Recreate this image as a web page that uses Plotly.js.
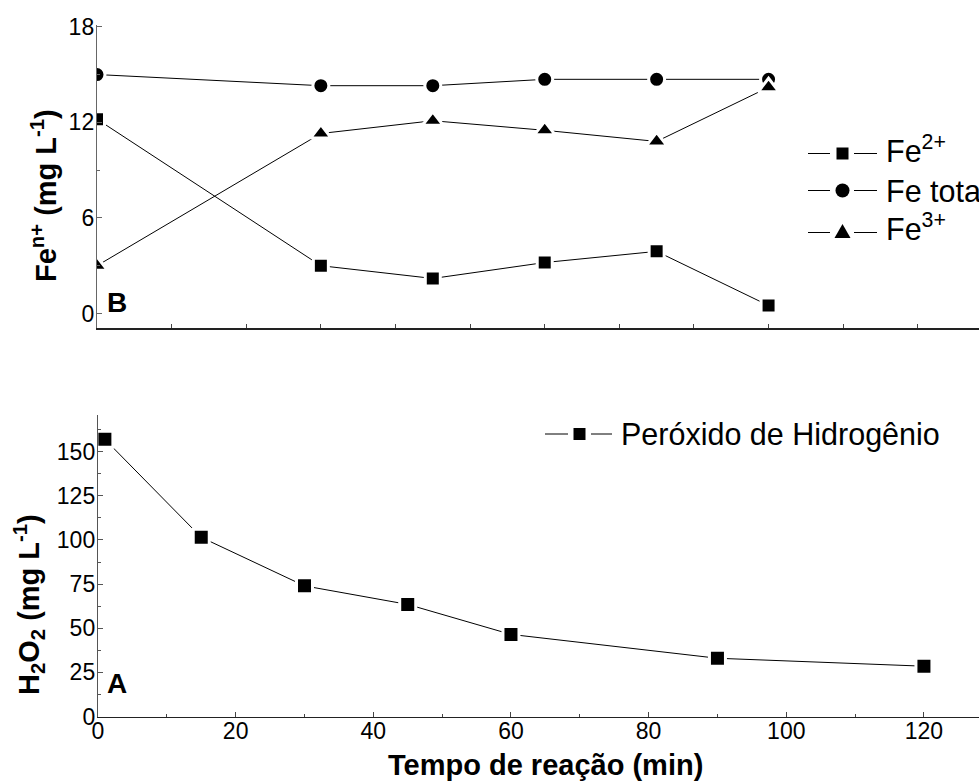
<!DOCTYPE html>
<html>
<head>
<meta charset="utf-8">
<script src="https://cdn.plot.ly/plotly-3.0.1.min.js"></script>
<style>
  html, body { margin: 0; padding: 0; background: #ffffff; }
  #chart { width: 979px; height: 783px; }
</style>
</head>
<body>
<div id="chart"></div>
<script>
// Iron species during the reaction (panel B)
const timeFe = [0, 30, 45, 60, 75, 90];
const fe2 = [12.2, 3.0, 2.2, 3.2, 3.9, 0.5];
const feTotal = [15.0, 14.3, 14.3, 14.7, 14.7, 14.7];
const fe3 = [3.0, 11.3, 12.1, 11.5, 10.8, 14.2];

// Hydrogen peroxide consumption (panel A)
const timeH2O2 = [1, 15, 30, 45, 60, 90, 120];
const h2o2 = [157, 101.5, 74, 63.5, 46.5, 33, 28.5];

const seriesNames = ['Fe<sup>2+</sup>', 'Fe total', 'Fe<sup>3+</sup>'];
const h2o2Name = 'Peróxido de Hidrogênio';

const W = 979, H = 783, L = 97;
const px = x => (x - L) / (W - L);   // pixel column -> paper x
const py = y => 1 - y / H;           // pixel row -> paper y

const FONT = '"Liberation Sans", Arial, Helvetica, sans-serif';

function markerStyle(symbol, size) {
  return { symbol: symbol, size: size, color: '#000000', line: { color: '#ffffff', width: 3 } };
}
const lineStyle = { color: '#000000', width: 1 };

const traces = [
  { x: timeFe, y: fe2, name: seriesNames[0], mode: 'lines+markers', xaxis: 'x2', yaxis: 'y2',
    line: lineStyle, marker: markerStyle('square', 15) },
  { x: timeFe, y: feTotal, name: seriesNames[1], mode: 'lines+markers', xaxis: 'x2', yaxis: 'y2',
    line: lineStyle, marker: markerStyle('circle', 16) },
  { x: timeFe, y: fe3, name: seriesNames[2], mode: 'lines+markers', xaxis: 'x2', yaxis: 'y2',
    line: lineStyle, marker: markerStyle('triangle-up', 18) },
  { x: timeH2O2, y: h2o2, name: h2o2Name, mode: 'lines+markers', xaxis: 'x', yaxis: 'y',
    line: lineStyle, marker: markerStyle('square', 16) }
];

const tickFont = { family: FONT, size: 23, color: '#000000' };
const legendFont = { family: FONT, size: 30.5, color: '#000000' };
const titleFont = { family: FONT, size: 29, color: '#000000' };

// Legend keys in the plotting-program style: line — symbol — line, then the label
const shapes = [];
const legendNotes = [];
function legendKey(row, symbol, label, lineL, lineR, cx, textX, textDy) {
  const yp = py(row);
  shapes.push({ type: 'line', xref: 'paper', yref: 'paper', x0: px(lineL[0]), x1: px(lineL[1]),
    y0: yp, y1: yp, line: { color: '#000000', width: 1 } });
  shapes.push({ type: 'line', xref: 'paper', yref: 'paper', x0: px(lineR[0]), x1: px(lineR[1]),
    y0: yp, y1: yp, line: { color: '#000000', width: 1 } });
  const fill = { fillcolor: '#000000', line: { width: 0 }, xref: 'paper', yref: 'paper' };
  if (symbol === 'square') {
    shapes.push(Object.assign({ type: 'rect', x0: px(cx - 6), x1: px(cx + 6),
      y0: py(row + 6), y1: py(row - 6) }, fill));
  } else if (symbol === 'circle') {
    shapes.push(Object.assign({ type: 'circle', x0: px(cx - 7), x1: px(cx + 7),
      y0: py(row + 7), y1: py(row - 7) }, fill));
  } else {
    const path = 'M ' + px(cx - 8) + ',' + py(row + 5.5) +
                 ' L ' + px(cx + 8) + ',' + py(row + 5.5) +
                 ' L ' + px(cx) + ',' + py(row - 8.5) + ' Z';
    shapes.push(Object.assign({ type: 'path', path: path }, fill));
  }
  legendNotes.push({ text: label, xref: 'paper', yref: 'paper', x: px(textX), y: py(row + textDy),
    xanchor: 'left', yanchor: 'middle', showarrow: false, font: legendFont });
}
legendKey(153.5, 'square', seriesNames[0], [808, 830], [854, 877], 842.5, 884, -5);
legendKey(190.5, 'circle', seriesNames[1], [808, 830], [854, 877], 842.5, 884, 0);
legendKey(232.5, 'triangle', seriesNames[2], [808, 830], [854, 877], 842.5, 884, -5);
legendKey(434, 'square', h2o2Name, [545, 568], [591, 612], 579.5, 619, 0);

const layout = {
  width: W, height: H,
  margin: { l: L, r: 0, t: 0, b: 0, autoexpand: false },
  paper_bgcolor: '#ffffff', plot_bgcolor: '#ffffff',
  font: { family: FONT, color: '#000000' },
  showlegend: false,
  // panel A axes
  xaxis: {
    domain: [px(98), 1], range: [0, 128], anchor: 'y',
    showgrid: false, zeroline: false, showline: true, linecolor: '#222222', linewidth: 1.5,
    tickmode: 'linear', tick0: 0, dtick: 20, ticks: 'inside', ticklen: 5, tickcolor: '#444444',
    minor: { dtick: 10, ticks: 'inside', ticklen: 3, tickcolor: '#444444', showgrid: false },
    tickfont: tickFont, ticklabelstandoff: -7
  },
  yaxis: {
    domain: [py(716.5), py(415)], range: [0, 170.8], anchor: 'x',
    showgrid: false, zeroline: false, showline: true, linecolor: '#555555', linewidth: 1.2,
    tickmode: 'linear', tick0: 0, dtick: 25, ticks: 'inside', ticklen: 5, tickcolor: '#555555',
    minor: { dtick: 12.5, ticks: 'inside', ticklen: 3, tickcolor: '#555555', showgrid: false },
    tickfont: tickFont, ticklabelstandoff: -3
  },
  // panel B axes
  xaxis2: {
    domain: [0, 1], range: [0, 118.2], anchor: 'y2',
    showgrid: false, zeroline: false, showline: true, linecolor: '#222222', linewidth: 1.5,
    tickmode: 'linear', tick0: 0, dtick: 10, ticks: 'inside', ticklen: 4, tickcolor: '#444444',
    showticklabels: false
  },
  yaxis2: {
    domain: [py(328), py(25)], range: [-0.91, 18.11], anchor: 'x2',
    showgrid: false, zeroline: false, showline: true, linecolor: '#666666', linewidth: 1.2,
    tickmode: 'linear', tick0: 0, dtick: 6, ticks: 'inside', ticklen: 5, tickcolor: '#666666',
    minor: { dtick: 3, ticks: 'inside', ticklen: 3, tickcolor: '#666666', showgrid: false },
    tickfont: tickFont, ticklabelstandoff: -3
  },
  shapes: shapes,
  annotations: [
    { text: '<b>Tempo de reação (min)</b>', xref: 'paper', yref: 'paper',
      x: px(545), y: py(765), xanchor: 'center', yanchor: 'middle', showarrow: false,
      font: titleFont },
    { text: '<b>Fe<sup>n+</sup> (mg L<sup>-1</sup>)</b>', xref: 'paper', yref: 'paper',
      x: px(44), y: py(196), xanchor: 'center', yanchor: 'middle', textangle: -90, showarrow: false,
      font: titleFont },
    { text: '<b>H<sub>2</sub>O<sub>2</sub> (mg L<sup>-1</sup>)</b>', xref: 'paper', yref: 'paper',
      x: px(29), y: py(605), xanchor: 'center', yanchor: 'middle', textangle: -90, showarrow: false,
      font: titleFont },
    { text: '<b>B</b>', xref: 'paper', yref: 'paper',
      x: px(105), y: py(303), xanchor: 'left', yanchor: 'middle', showarrow: false,
      font: { family: FONT, size: 28, color: '#000000' } },
    { text: '<b>A</b>', xref: 'paper', yref: 'paper',
      x: px(105), y: py(683), xanchor: 'left', yanchor: 'middle', showarrow: false,
      font: { family: FONT, size: 28, color: '#000000' } }
  ].concat(legendNotes)
};

Plotly.newPlot('chart', traces, layout, { staticPlot: true, displayModeBar: false });
</script>
</body>
</html>
